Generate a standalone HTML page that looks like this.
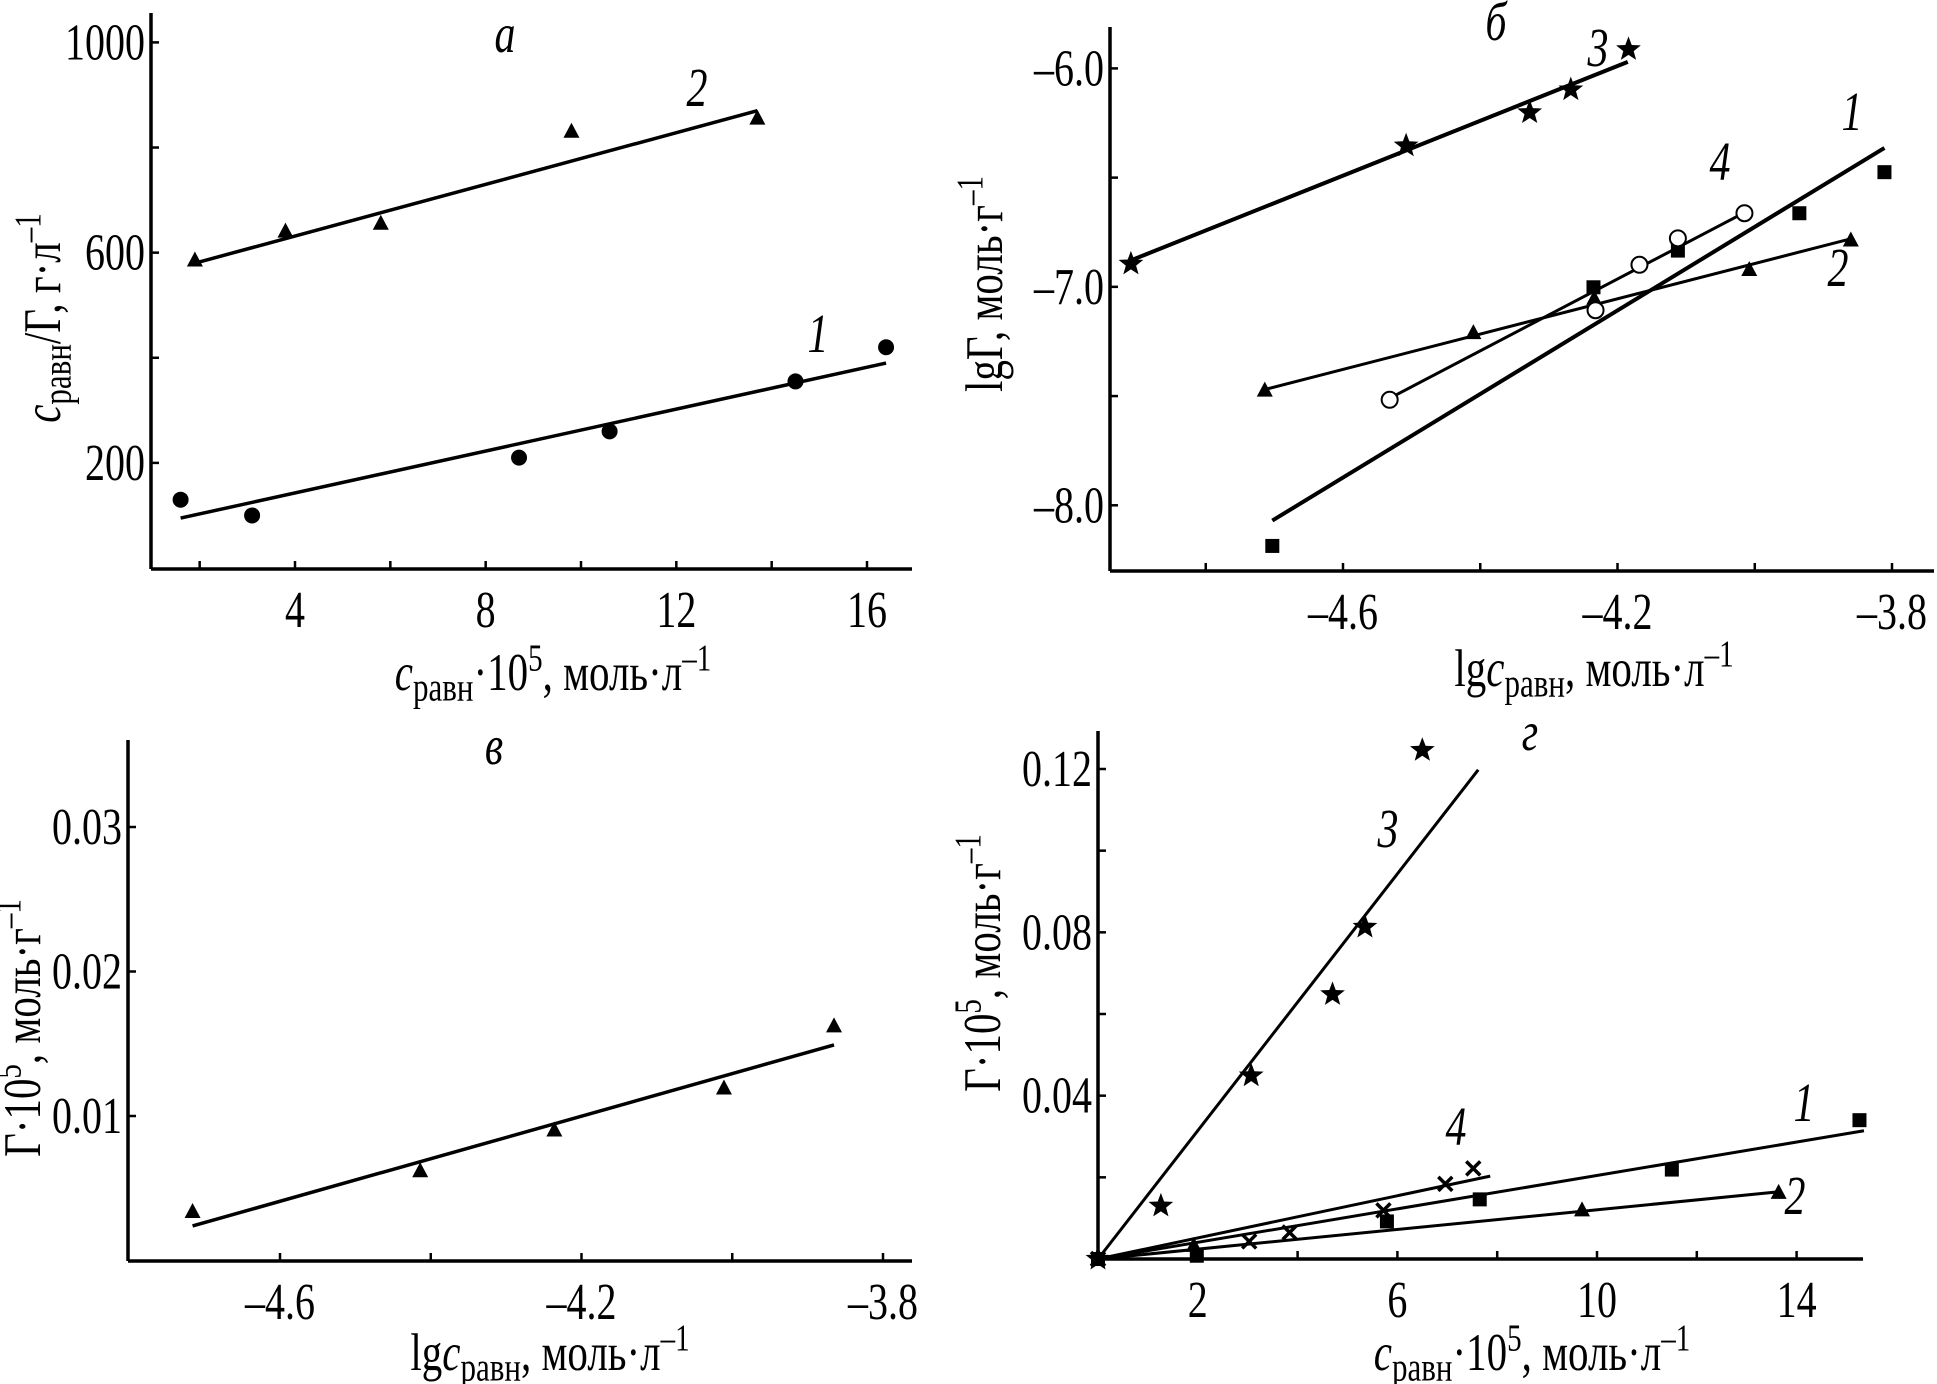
<!DOCTYPE html>
<html><head><meta charset="utf-8">
<style>
html,body{margin:0;padding:0;background:#fff;}
svg{display:block;font-family:"Liberation Serif","DejaVu Serif",serif;}
</style></head>
<body>
<svg id="fig" width="1937" height="1384" viewBox="0 0 1937 1384" xmlns="http://www.w3.org/2000/svg"></svg>
<script>
// ---------- Panel a ----------
const aX1 = [1.6, 3.1, 8.7, 10.6, 14.5, 16.4];
const aY1 = [130, 100, 210, 260, 355, 420];
const aFit1 = [[1.6, 95], [16.4, 390]];
const aX2 = [1.9, 3.8, 5.8, 9.8, 13.7];
const aY2 = [585, 640, 655, 830, 855];
const aFit2 = [[1.9, 580], [13.7, 870]];
const aXTicks = [4, 8, 12, 16];
const aXMinor = [2, 6, 10, 14];
const aYTicks = [200, 600, 1000];
const aYMinor = [400, 800];
// ---------- Panel б ----------
const bX1 = [-4.703, -4.235, -4.112, -3.935, -3.811];
const bY1 = [-8.186, -7.002, -6.834, -6.663, -6.475];
const bFit1 = [[-4.703, -8.07], [-3.811, -6.364]];
const bX2 = [-4.714, -4.41, -4.234, -4.008, -3.86];
const bY2 = [-7.475, -7.212, -7.055, -6.923, -6.788];
const bFit2 = [[-4.714, -7.47], [-3.86, -6.78]];
const bX3 = [-4.909, -4.508, -4.328, -4.268, -4.184];
const bY3 = [-6.895, -6.354, -6.202, -6.097, -5.913];
const bFit3 = [[-4.91, -6.88], [-4.185, -5.97]];
const bX4 = [-4.532, -4.232, -4.168, -4.112, -4.015];
const bY4 = [-7.517, -7.107, -6.899, -6.778, -6.663];
const bFit4 = [[-4.532, -7.51], [-4.015, -6.66]];
const bXTicks = [-4.6, -4.2, -3.8];
const bXMinor = [-4.8, -4.4, -4.0];
const bYTicks = [-8.0, -7.0, -6.0];
const bYMinor = [-7.5, -6.5];
// ---------- Panel в ----------
const cX = [-4.716, -4.414, -4.236, -4.011, -3.865];
const cY = [0.00336, 0.00618, 0.0090, 0.0119, 0.0162];
const cFit = [[-4.716, 0.00239], [-3.865, 0.01492]];
const cXTicks = [-4.6, -4.2, -3.8];
const cXMinor = [-4.4, -4.0];
const cYTicks = [0.01, 0.02, 0.03];
// ---------- Panel г ----------
const dX1 = [0, 1.98, 5.79, 7.65, 11.5, 15.26];
const dY1 = [0, 0.0008, 0.0092, 0.0146, 0.0219, 0.034];
const dFit1 = [[0, 0], [15.35, 0.0314]];
const dX2 = [0, 1.92, 9.7, 13.64];
const dY2 = [0, 0.0032, 0.0119, 0.0162];
const dFit2 = [[0, 0], [13.6, 0.0164]];
const dX3 = [0, 1.26, 3.07, 4.70, 5.35, 6.5];
const dY3 = [0, 0.013, 0.0449, 0.0648, 0.0813, 0.1246];
const dFit3 = [[0, 0], [7.62, 0.1198]];
const dX4 = [0, 3.03, 3.84, 5.72, 6.96, 7.52];
const dY4 = [0, 0.0043, 0.0065, 0.0119, 0.0184, 0.0222];
const dFit4 = [[0, 0], [7.86, 0.0203]];
const dXTicks = [2, 6, 10, 14];
const dXMinor = [4, 8, 12];
const dYTicks = [0.04, 0.08, 0.12];
const dYMinor = [0.02, 0.06, 0.10];

const NS = "http://www.w3.org/2000/svg";
const svg = document.getElementById('fig');
const SY = 1.3;
function mk(tag, attrs, parent) {
  const e = document.createElementNS(NS, tag);
  for (const k in attrs) e.setAttribute(k, attrs[k]);
  (parent || svg).appendChild(e);
  return e;
}
function lin(d0, p0, d1, p1) { return v => p0 + (v - d0) * (p1 - p0) / (d1 - d0); }
function tx(g, x, y, str, size, anchor, italic, rot) {
  const t = mk('text', {x: 0, y: 0, 'font-size': size, 'text-anchor': anchor || 'middle',
    transform: `translate(${x},${y}) rotate(${rot || 0}) scale(1,${SY})`}, g);
  if (italic) t.setAttribute('font-style', 'italic');
  t.textContent = str;
  return t;
}
function rich(g, x, y, parts, rot, name) {
  const t = mk('text', {x: 0, y: 0, 'font-size': 41, 'text-anchor': 'middle',
    transform: `translate(${x},${y}) rotate(${rot || 0}) scale(1,${SY})`}, g);
  
  
  let shift = 0;
  parts.forEach(p => {
    const s = mk('tspan', {}, t);
    let target = 0;
    if (p[1] === 'i') s.setAttribute('font-style', 'italic');
    if (p[1] === 'sub') { s.setAttribute('font-size', 31); target = 8; }
    if (p[1] === 'sup') { s.setAttribute('font-size', 29); target = -15; }
    s.setAttribute('dy', target - shift);
    shift = target;
    s.textContent = p[0];
  });
}

function axes(g, P, xt, xm, yt, ym, fmtX, fmtY) {
  const xa = mk('line', {x1: P.left, y1: P.bottom, x2: P.right, y2: P.bottom, stroke: '#000', 'stroke-width': 3.5}, g);
  
  
  const ya = mk('line', {x1: P.left, y1: P.top, x2: P.left, y2: P.bottom, stroke: '#000', 'stroke-width': 3.5}, g);
  
  
  xt.concat(xm).forEach(v => {
    const x = P.sx(v);
    const t = mk('line', {x1: x, y1: P.bottom, x2: x, y2: P.bottom - 8, stroke: '#000', 'stroke-width': 2.5}, g);
    
    
  });
  yt.concat(ym).forEach(v => {
    const y = P.sy(v);
    const t = mk('line', {x1: P.left, y1: y, x2: P.left + 8, y2: y, stroke: '#000', 'stroke-width': 2.5}, g);
    
    
  });
  xt.forEach(v => {
    const t = tx(g, P.sx(v), P.bottom + 58, fmtX(v), 40, 'middle');
    
    
  });
  yt.forEach(v => {
    const t = tx(g, P.left - 6, P.sy(v) + 17, fmtY(v), 40, 'end');
    
    
  });
}
function fit(g, P, f, w) {
  const l = mk('line', {x1: P.sx(f[0][0]), y1: P.sy(f[0][1]), x2: P.sx(f[1][0]), y2: P.sy(f[1][1]), stroke: '#000', 'stroke-width': w || 3.5}, g);
  
  
}
function starPts(cx, cy, r) {
  const p = [];
  for (let i = 0; i < 10; i++) {
    const a = -Math.PI / 2 + i * Math.PI / 5;
    const rr = i % 2 ? r * 0.42 : r;
    p.push((cx + rr * Math.cos(a)).toFixed(1) + ',' + (cy + rr * Math.sin(a)).toFixed(1));
  }
  return p.join(' ');
}
function marks(g, P, xs, ys, type) {
  xs.forEach((xv, i) => {
    const x = P.sx(xv), y = P.sy(ys[i]);
    let m;
    if (type === 'circle') m = mk('circle', {cx: x, cy: y, r: 8, fill: '#000'}, g);
    else if (type === 'ocircle') m = mk('circle', {cx: x, cy: y, r: 8, fill: '#fff', stroke: '#000', 'stroke-width': 2}, g);
    else if (type === 'tri') m = mk('polygon', {points: `${x},${y - 9} ${x - 8},${y + 6} ${x + 8},${y + 6}`, fill: '#000'}, g);
    else if (type === 'square') m = mk('rect', {x: x - 7, y: y - 7, width: 14, height: 14, fill: '#000'}, g);
    else if (type === 'star') m = mk('polygon', {points: starPts(x, y, 13), fill: '#000'}, g);
    else if (type === 'cross') m = mk('path', {d: `M${x - 7},${y - 7}L${x + 7},${y + 7}M${x - 7},${y + 7}L${x + 7},${y - 7}`, stroke: '#000', 'stroke-width': 3.5}, g);
    
    
  });
}
function label(g, x, y, txt, name) {
  const t = tx(g, x, y, txt, 42, 'middle', true);
  
  
}
const f1 = v => String(v);
const fneg = v => '\u2013' + Math.abs(v).toFixed(1);
const cTitle = [['c', 'i'], ['равн', 'sub'], ['·10', 'n'], ['5', 'sup'], [', моль·л', 'n'], ['–1', 'sup']];
const lgTitle = [['lg', 'n'], ['c', 'i'], ['равн', 'sub'], [', моль·л', 'n'], ['–1', 'sup']];
const gTitle = [['Г·10', 'n'], ['5', 'sup'], [', моль·г', 'n'], ['–1', 'sup']];

// Panel a
const gA = mk('g', {});  
const PA = {left: 151, right: 912, top: 13, bottom: 569, sx: lin(4, 295, 16, 867), sy: lin(1000, 42.4, 200, 462.9)};
axes(gA, PA, aXTicks, aXMinor, aYTicks, aYMinor, f1, f1);
fit(gA, PA, aFit1); fit(gA, PA, aFit2);
marks(gA, PA, aX1, aY1, 'circle'); marks(gA, PA, aX2, aY2, 'tri');
label(gA, 505, 52, 'а', 'panel-label-a');
label(gA, 697, 106, '2', 'series-label-2');
label(gA, 818, 352, '1', 'series-label-1');
rich(gA, 553, 690, cTitle, 0, 'x-axis-title');
rich(gA, 60, 318, [['c', 'i'], ['равн', 'sub'], ['/Г, г·л', 'n'], ['–1', 'sup']], -90, 'y-axis-title');

// Panel б
const gB = mk('g', {});  
const PB = {left: 1110, right: 1934, top: 27, bottom: 571, sx: lin(-4.6, 1343, -3.8, 1892), sy: lin(-6, 68.4, -8, 505.3)};
axes(gB, PB, bXTicks, bXMinor, bYTicks, bYMinor, fneg, fneg);
fit(gB, PB, bFit1, 4); fit(gB, PB, bFit2, 3); fit(gB, PB, bFit3, 4); fit(gB, PB, bFit4, 3);
marks(gB, PB, bX1, bY1, 'square'); marks(gB, PB, bX2, bY2, 'tri');
marks(gB, PB, bX3, bY3, 'star'); marks(gB, PB, bX4, bY4, 'ocircle');
label(gB, 1496, 40, 'б', 'panel-label-b');
label(gB, 1598, 66, '3', 'series-label-3');
label(gB, 1852, 130, '1', 'series-label-1');
label(gB, 1720, 180, '4', 'series-label-4');
label(gB, 1838, 286, '2', 'series-label-2');
rich(gB, 1594, 686, lgTitle, 0, 'x-axis-title');
rich(gB, 1002, 284, [['lgГ, моль·г', 'n'], ['–1', 'sup']], -90, 'y-axis-title');

// Panel в
const gC = mk('g', {});  
const PC = {left: 128, right: 912, top: 740, bottom: 1261, sx: lin(-4.6, 280, -3.8, 883), sy: lin(0.03, 827, 0.01, 1116)};
axes(gC, PC, cXTicks, cXMinor, cYTicks, [], fneg, v => v.toFixed(2));
fit(gC, PC, cFit);
marks(gC, PC, cX, cY, 'tri');
label(gC, 494, 764, 'в', 'panel-label-c');
rich(gC, 550, 1370, lgTitle, 0, 'x-axis-title');
rich(gC, 40, 1028, gTitle, -90, 'y-axis-title');

// Panel г
const gD = mk('g', {});  
const PD = {left: 1098, right: 1863, top: 731, bottom: 1259, sx: lin(0, 1098, 14, 1796.6), sy: lin(0, 1259, 0.12, 769)};
axes(gD, PD, dXTicks, dXMinor, dYTicks, dYMinor, f1, v => v.toFixed(2));
fit(gD, PD, dFit1, 3); fit(gD, PD, dFit2, 3); fit(gD, PD, dFit3, 3); fit(gD, PD, dFit4, 3);
marks(gD, PD, dX1, dY1, 'square'); marks(gD, PD, dX2, dY2, 'tri');
marks(gD, PD, dX3, dY3, 'star'); marks(gD, PD, dX4, dY4, 'cross');
label(gD, 1530, 750, 'г', 'panel-label-d');
label(gD, 1388, 847, '3', 'series-label-3');
label(gD, 1456, 1145, '4', 'series-label-4');
label(gD, 1804, 1121, '1', 'series-label-1');
label(gD, 1795, 1214, '2', 'series-label-2');
rich(gD, 1532, 1370, cTitle, 0, 'x-axis-title');
rich(gD, 1000, 963, gTitle, -90, 'y-axis-title');
</script>
</body></html>
